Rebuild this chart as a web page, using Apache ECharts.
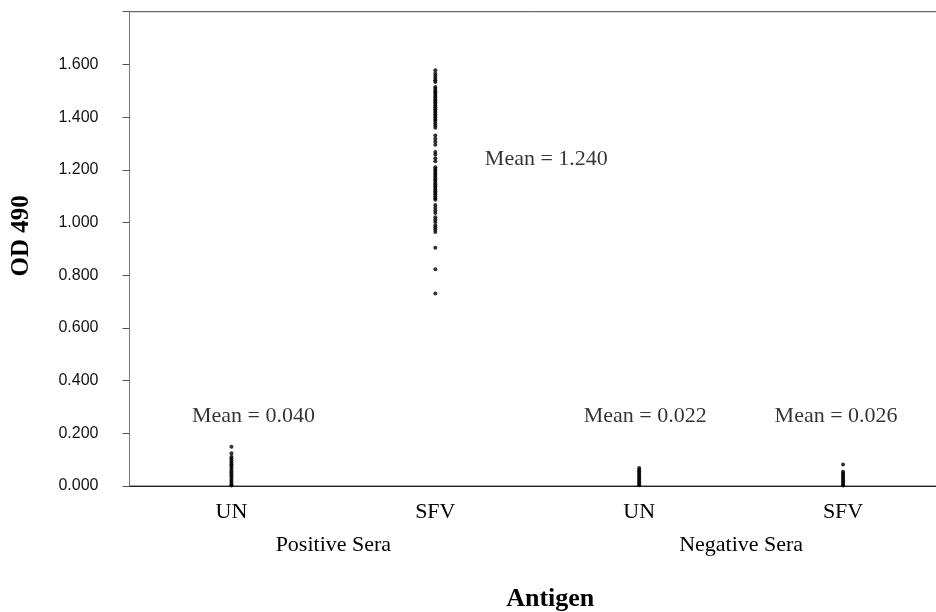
<!DOCTYPE html>
<html>
<head>
<meta charset="utf-8">
<script src="https://cdn.jsdelivr.net/npm/echarts@6/dist/echarts.min.js"></script>
<style>html,body{margin:0;padding:0;background:#fff}#c{width:936px;height:612px}</style>
</head>
<body>
<div id="c"></div>
<script>
// Categories
var antigens = ['UN', 'SFV', 'UN', 'SFV'];
var seraGroups = ['Positive Sera', 'Negative Sera'];
var yTicks = [0, 0.2, 0.4, 0.6, 0.8, 1.0, 1.2, 1.4, 1.6, 1.8];

// OD 490 readings per column
var posUN = [0.149, 0.124, 0.111, 0.104, 0.097, 0.090, 0.083, 0.076, 0.069, 0.062, 0.055, 0.048, 0.041, 0.034, 0.027, 0.020, 0.013, 0.006, 0.002];
var posSFV = [1.578, 1.565, 1.557, 1.548, 1.540, 1.533, 1.514, 1.508, 1.500, 1.494, 1.488, 1.481, 1.475, 1.468, 1.462, 1.456, 1.450, 1.443, 1.437, 1.430, 1.424, 1.417, 1.411, 1.404, 1.398, 1.391, 1.385, 1.376, 1.368, 1.360, 1.330, 1.318, 1.306, 1.295, 1.268, 1.258, 1.244, 1.232, 1.210, 1.203, 1.197, 1.190, 1.184, 1.177, 1.171, 1.164, 1.158, 1.151, 1.145, 1.138, 1.132, 1.125, 1.119, 1.112, 1.106, 1.099, 1.092, 1.086, 1.066, 1.056, 1.046, 1.036, 1.020, 1.010, 1.002, 0.990, 0.982, 0.973, 0.964, 0.904, 0.823, 0.731];
var negUN = [0.068, 0.062, 0.056, 0.050, 0.044, 0.038, 0.032, 0.026, 0.020, 0.014, 0.008, 0.003];
var negSFV = [0.082, 0.054, 0.048, 0.042, 0.036, 0.030, 0.024, 0.018, 0.012, 0.006, 0.002];

// Mean annotations
var meanTexts = ['Mean = 0.040', 'Mean = 1.240', 'Mean = 0.022', 'Mean = 0.026'];
var meanLabelY = [0.265, 1.241, 0.265, 0.265];

var columns = [posUN, posSFV, negUN, negSFV];
var pts = [];
columns.forEach(function (col, i) {
  col.forEach(function (v) { pts.push([i, v]); });
});
var meanOffsets = [[22, 0], [111, 0], [6, 0], [-7, 0]];
var meanPts = meanTexts.map(function (t, i) {
  return {
    value: [i, meanLabelY[i]],
    label: { formatter: t, offset: meanOffsets[i] }
  };
});

var chart = echarts.init(document.getElementById('c'), null, { renderer: 'canvas' });
chart.setOption({
  animation: false,
  backgroundColor: '#ffffff',
  grid: {
    left: 129.5, top: 11.7, width: 815.5, bottom: 126,
    outerBoundsMode: 'none',
    containLabel: false,
    show: true, borderColor: '#444', borderWidth: 1, backgroundColor: 'transparent'
  },
  xAxis: [{
    type: 'category',
    data: antigens,
    position: 'bottom',
    boundaryGap: true,
    axisLine: { show: true, lineStyle: { color: '#222', width: 1 } },
    axisTick: { show: false },
    axisLabel: { margin: 15, fontFamily: 'Liberation Serif', fontSize: 22, color: '#000' },
    splitLine: { show: false },
    name: 'Antigen',
    nameLocation: 'middle',
    nameGap: 100,
    nameTextStyle: { fontFamily: 'Liberation Serif', fontWeight: 'bold', fontSize: 26, color: '#000', padding: [0, 0, 0, 26] }
  }, {
    type: 'category',
    data: seraGroups,
    position: 'bottom',
    gridIndex: 0,
    boundaryGap: true,
    axisLine: { show: false },
    axisTick: { show: false },
    axisLabel: { margin: 48, fontFamily: 'Liberation Serif', fontSize: 22, color: '#000' },
    splitLine: { show: false }
  }],
  yAxis: {
    type: 'value',
    min: 0, max: 1.8, interval: 0.2,
    axisLine: { show: true, lineStyle: { color: '#777', width: 1 } },
    axisTick: { show: true, inside: false, length: 7, lineStyle: { color: '#555' } },
    axisLabel: {
      margin: 31, fontFamily: 'Liberation Sans', fontSize: 16, color: '#111',
      formatter: function (v) { return v >= 1.79 ? '' : v.toFixed(3); }
    },
    splitLine: { show: false },
    name: 'OD 490',
    nameLocation: 'middle',
    nameGap: 95,
    nameRotate: 90,
    nameTextStyle: { fontFamily: 'Liberation Serif', fontWeight: 'bold', fontSize: 25, color: '#000', padding: [0, 0, 0, 26] }
  },
  series: [{
    type: 'scatter',
    xAxisIndex: 0,
    data: pts,
    symbol: 'circle',
    symbolSize: 4,
    itemStyle: { color: '#000' },
    z: 3
  }, {
    type: 'scatter',
    xAxisIndex: 0,
    data: meanPts,
    symbolSize: 0,
    itemStyle: { color: 'transparent' },
    label: {
      show: true, position: 'inside',
      fontFamily: 'Liberation Serif', fontSize: 22, color: '#000'
    },
    z: 4
  }]
});
</script>
</body>
</html>
